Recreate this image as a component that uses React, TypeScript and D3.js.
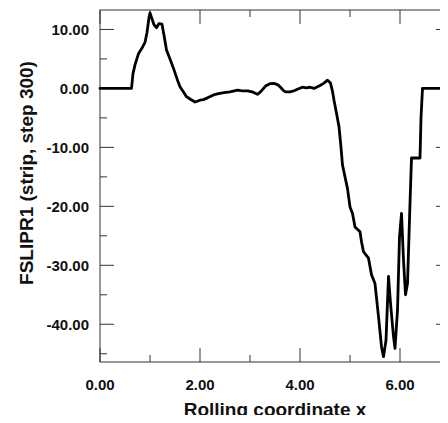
import React from "react";
import * as d3 from "d3";

// Rolling coordinate (x) and FSLIPR1 values along the strip
const xValues = [
  0, 0.63, 0.66, 0.7, 0.77, 0.85, 0.9, 0.94, 0.98, 1.0, 1.04, 1.08, 1.13, 1.18, 1.24,
  1.28, 1.33, 1.4, 1.47, 1.55, 1.6, 1.67, 1.73, 1.8, 1.9, 2.0, 2.07, 2.15, 2.27, 2.37,
  2.48, 2.6, 2.75, 2.85, 2.95, 3.05, 3.15, 3.22, 3.31, 3.4, 3.48, 3.56, 3.61, 3.66,
  3.71, 3.8, 3.88, 3.96, 4.05, 4.12, 4.2, 4.28, 4.35, 4.41, 4.48, 4.55, 4.61, 4.65,
  4.68, 4.73, 4.78, 4.82, 4.85, 4.9, 4.95, 5.0, 5.05, 5.1, 5.2, 5.23, 5.27, 5.37, 5.43,
  5.5, 5.57, 5.63, 5.67, 5.72, 5.77, 5.81, 5.87, 5.9, 5.95, 5.99, 6.03, 6.07, 6.11,
  6.15, 6.2, 6.23, 6.4, 6.42, 6.45, 7.0,
];
const slipValues = [
  0, 0, 2.5, 4.0, 5.9, 7.0, 7.8, 9.5, 12.0, 12.8, 11.8, 10.8, 10.3, 11.0, 10.9,
  9.0, 6.5, 5.0, 3.4, 1.4, 0.3, -0.6, -1.4, -1.8, -2.3, -2.0, -1.9, -1.6, -1.1, -0.9,
  -0.7, -0.6, -0.3, -0.4, -0.4, -0.6, -1.0, -0.5, 0.4, 0.8, 0.85, 0.6, 0.2, -0.3,
  -0.6, -0.6, -0.4, -0.1, 0.2, 0.1, 0.2, 0, 0.3, 0.55, 0.9, 1.4, 0.9, -0.5,
  -2.0, -4.2, -6.5, -10, -13.0, -15.0, -17.0, -20.1, -21.2, -23.5, -24.3, -26, -27.7, -28.8, -31.6,
  -33.1, -38.7, -43.8, -45.5, -42.7, -31.9, -36.4, -42.1, -44.1, -37.6, -25.2, -21.2, -29.1, -35.0,
  -33.1, -19.5, -11.8, -11.8, -5, 0, 0,
];

const xMajorTicks = [0, 2, 4, 6];
const xMinorTicks = [1, 3, 5];
const yMajorTicks = [-40, -30, -20, -10, 0, 10];
const yMinorTicks = [-45, -35, -25, -15, -5, 5];

const xDomain: [number, number] = [0, 7];
const yDomain: [number, number] = [-46.4, 13.3];

const xTitle = "Rolling coordinate x";
const yTitle = "FSLIPR1 (strip, step 300)";

// page-sized drawing; the body margin (8px) is taken back with an inner offset
const PAGE_W = 448;
const PAGE_H = 423;
const M = 8;
const left = 100;
const right = 450;
const top = 10;
const bottom = 362;

export default function App() {
  const x = d3.scaleLinear().domain(xDomain).range([left, right]);
  const y = d3.scaleLinear().domain(yDomain).range([bottom, top]);
  const points = xValues.map((v, i) => [v, slipValues[i]] as [number, number]);
  const path = d3
    .line<[number, number]>()
    .x((d) => x(d[0]))
    .y((d) => y(d[1]))(points) as string;

  const font = "'Liberation Sans', Arial, Helvetica, sans-serif";
  const axisColor = "#333";
  const majorLen = 14;
  const minorLen = 7;

  return (
    <svg
      width={PAGE_W - M}
      height={PAGE_H - M}
      style={{ display: "block", marginBottom: -M }}
    >
      <g transform={`translate(${-M},${-M})`}>
        <rect x={0} y={0} width={PAGE_W} height={PAGE_H} fill="#fff" />
        {/* frame */}
        <rect
          x={left}
          y={top}
          width={right - left}
          height={bottom - top}
          fill="none"
          stroke={axisColor}
          strokeWidth={1}
        />
        {/* x ticks, bottom and top */}
        {xMajorTicks.map((t) => (
          <g key={"xM" + t}>
            <line x1={x(t)} x2={x(t)} y1={bottom} y2={bottom - majorLen} stroke={axisColor} />
            <line x1={x(t)} x2={x(t)} y1={top} y2={top + majorLen} stroke={axisColor} />
            <text
              x={x(t)}
              y={390}
              textAnchor="middle"
              fontFamily={font}
              fontWeight="bold"
              fontSize={15}
              fill="#111"
            >
              {t.toFixed(2)}
            </text>
          </g>
        ))}
        {xMinorTicks.map((t) => (
          <g key={"xm" + t}>
            <line x1={x(t)} x2={x(t)} y1={bottom} y2={bottom - minorLen} stroke={axisColor} />
            <line x1={x(t)} x2={x(t)} y1={top} y2={top + minorLen} stroke={axisColor} />
          </g>
        ))}
        {/* y ticks, left and right */}
        {yMajorTicks.map((t) => (
          <g key={"yM" + t}>
            <line x1={left} x2={left + majorLen} y1={y(t)} y2={y(t)} stroke={axisColor} />
            <line x1={right} x2={right - majorLen} y1={y(t)} y2={y(t)} stroke={axisColor} />
            <text
              x={89}
              y={y(t)}
              dy="0.36em"
              textAnchor="end"
              fontFamily={font}
              fontWeight="bold"
              fontSize={15}
              fill="#111"
            >
              {t.toFixed(2)}
            </text>
          </g>
        ))}
        {yMinorTicks.map((t) => (
          <g key={"ym" + t}>
            <line x1={left} x2={left + minorLen} y1={y(t)} y2={y(t)} stroke={axisColor} />
            <line x1={right} x2={right - minorLen} y1={y(t)} y2={y(t)} stroke={axisColor} />
          </g>
        ))}
        {/* data line */}
        <path
          d={path}
          fill="none"
          stroke="#000"
          strokeWidth={2.8}
          strokeLinejoin="round"
          strokeLinecap="round"
        />
        {/* axis titles */}
        <text
          x={(left + right) / 2}
          y={416}
          textAnchor="middle"
          fontFamily={font}
          fontWeight="bold"
          fontSize={19}
          fill="#111"
        >
          {xTitle}
        </text>
        <text
          transform="translate(33, 173) rotate(-90)"
          textAnchor="middle"
          fontFamily={font}
          fontWeight="bold"
          fontSize={19}
          fill="#111"
        >
          {yTitle}
        </text>
      </g>
    </svg>
  );
}
